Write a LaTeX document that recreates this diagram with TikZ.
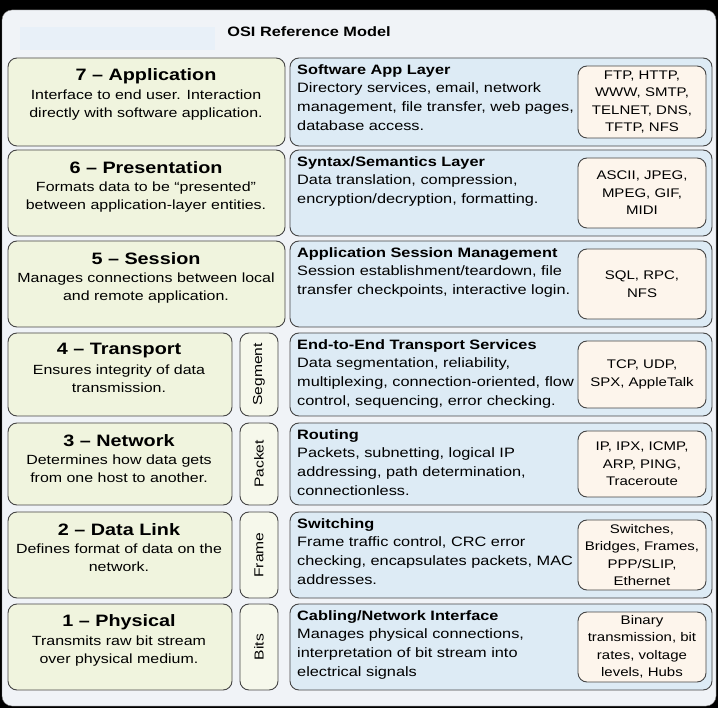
\documentclass[tikz,border=0pt]{standalone}
\usepackage{fontspec}
\setmainfont{Liberation Sans}[FakeStretch=1.2]
\definecolor{lfill}{RGB}{240,244,222}
\definecolor{rfill}{RGB}{221,235,245}
\definecolor{ifill}{RGB}{253,245,236}
\definecolor{bg}{RGB}{240,243,247}
\definecolor{band}{RGB}{232,240,248}
\definecolor{edge}{RGB}{70,70,70}
\begin{document}
\begin{tikzpicture}[x=1pt,y=-1pt,
  frame/.style={draw=edge,line width=0.9pt,rounded corners=9pt},
  lbox/.style={frame,fill=lfill},
  rbox/.style={frame,fill=rfill},
  ibox/.style={frame,fill=ifill},
  sbox/.style={frame,fill=lfill!60!white},
  ltitle/.style={font=\fontsize{16.5}{18}\selectfont\bfseries},
  ldesc/.style={font=\fontsize{13.3}{18.5}\selectfont,align=center},
  rtext/.style={font=\fontsize{13.6}{18.8}\selectfont,align=left,anchor=north west,text width=300pt,inner sep=0pt},
  itext/.style={font=\fontsize{12.5}{17.5}\selectfont,align=center},
  vtext/.style={font=\fontsize{13}{14}\selectfont,rotate=90}]
\fill[black] (0,0) rectangle (718,708);
\path[use as bounding box] (0,0) rectangle (718,708);
\fill[bg,rounded corners=10pt,draw=gray] (2,10) rectangle (716,706);
\fill[band] (20,27) rectangle (215,50);
\node[font=\fontsize{13.6}{15}\selectfont\bfseries] (title) at (309,32) {OSI Reference Model};
\foreach \n/\t/\b/\nm/\d/\hd/\bd/\it/\v in {
 7/58/146/{7 -- Application}/{Interface to end user. Interaction\\directly with software application.}/{Software App Layer}/{Directory services, email, network\\management, file transfer, web pages,\\database access.}/{FTP, HTTP,\\WWW, SMTP,\\TELNET, DNS,\\TFTP, NFS}/{},
 6/150/236/{6 -- Presentation}/{Formats data to be ``presented''\\between application-layer entities.}/{Syntax/Semantics Layer}/{Data translation, compression,\\encryption/decryption, formatting.}/{ASCII, JPEG,\\MPEG, GIF,\\MIDI}/{},
 5/241/327/{5 -- Session}/{Manages connections between local\\and remote application.}/{Application Session Management}/{Session establishment/teardown, file\\transfer checkpoints, interactive login.}/{SQL, RPC,\\NFS}/{},
 4/333/416/{4 -- Transport}/{Ensures integrity of data\\transmission.}/{End-to-End Transport Services}/{Data segmentation, reliability,\\multiplexing, connection-oriented, flow\\control, sequencing, error checking.}/{TCP, UDP,\\SPX, AppleTalk}/{Segment},
 3/423/505/{3 -- Network}/{Determines how data gets\\from one host to another.}/{Routing}/{Packets, subnetting, logical IP\\addressing, path determination,\\connectionless.}/{IP, IPX, ICMP,\\ARP, PING,\\Traceroute}/{Packet},
 2/512/598/{2 -- Data Link}/{Defines format of data on the\\network.}/{Switching}/{Frame traffic control, CRC error\\checking, encapsulates packets, MAC\\addresses.}/{Switches,\\Bridges, Frames,\\PPP/SLIP,\\Ethernet}/{Frame},
 1/604/690/{1 -- Physical}/{Transmits raw bit stream\\over physical medium.}/{Cabling/Network Interface}/{Manages physical connections,\\interpretation of bit stream into\\electrical signals}/{Binary\\transmission, bit\\rates, voltage\\levels, Hubs}/{Bits}}{
  \ifnum\n>4
    \draw[lbox] (8,\t) rectangle (285,\b);
    \node[ltitle] (lt\n) at (146,\t+18) {\nm};
    \node[ldesc,anchor=north] (ld\n) at (146,\t+28) {\d};
  \else
    \draw[lbox] (8,\t) rectangle (232,\b);
    \draw[sbox] (240,\t) rectangle (278,\b);
    \node[vtext] (v\n) at (259,{(\t+\b)/2}) {\v};
    \node[ltitle] (lt\n) at (119,\t+18) {\nm};
    \node[ldesc,anchor=north] (ld\n) at (119,\t+28) {\d};
  \fi
  \draw[rbox] (290,\t) rectangle (712,\b);
  \node[rtext] (rt\n) at (297,\t+6) {\textbf{\hd}\\\bd};
  \draw[ibox] (578,\t+8) rectangle (706,\b-8);
  \node[itext] (it\n) at (642,{(\t+\b)/2}) {\it};
}
\end{tikzpicture}
\end{document}
